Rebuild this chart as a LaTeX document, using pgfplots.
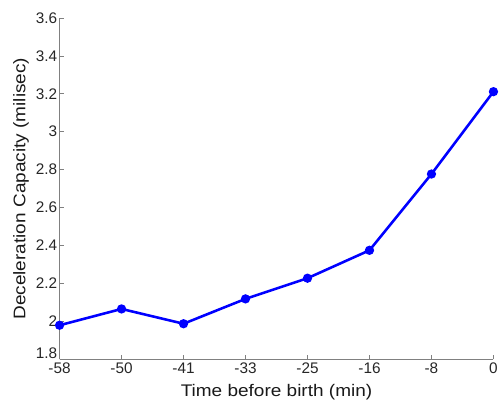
\documentclass[border=0pt]{standalone}
\usepackage{pgfplots}
\pgfplotsset{compat=1.18}
\usepackage{fontspec}
\setmainfont{Liberation Sans}
\begin{document}
\begin{tikzpicture}[x=1bp,y=1bp]
\begin{axis}[
  name=ax,
  scale only axis,
  width=437bp, height=344bp,
  xmin=0, xmax=7,
  ymin=1.8, ymax=3.6,
  xtick={0,1,2,3,4,5,6,7},
  xticklabels={-58,-50,-41,-33,-25,-16,-8,0},
  ytick={1.8,2,2.2,2.4,2.6,2.8,3,3.2,3.4,3.6},
  yticklabels={1.8,2,2.2,2.4,2.6,2.8,3,3.2,3.4,3.6},
  axis x line=bottom, axis y line=left,
  axis line style={-, draw=black!50, line width=0.6pt},
  tick style={draw=black!50, line width=0.6pt},
  tick align=inside,
  major tick length=4bp,
  tick label style={font=\fontsize{15.5}{15.5}\selectfont, text=black!85},
  xticklabel style={yshift=0bp},
  yticklabel style={xshift=1bp, yshift={ifthenelse(\ticknum==0,6,0)}},
  xlabel style={font=\fontsize{17}{17}\selectfont, text=black!90, xscale=1.13, yshift=-4bp},
  ylabel style={font=\fontsize{17}{17}\selectfont, text=black!90, xscale=1.13, yshift=0bp},
  xlabel={Time before birth (min)},
  ylabel={Deceleration Capacity (milisec)},
  clip=false,
]
\addplot[color=blue, line width=2.6pt, mark=*, mark size=3.3bp, mark options={fill=blue}]
coordinates {
(0,1.980) (1,2.066) (2,1.988) (3,2.119) (4,2.228) (5,2.375) (6,2.777) (7,3.211)
};
\end{axis}
\path ([xshift=-60bp,yshift=-43bp]ax.south west) rectangle ([xshift=4bp,yshift=18bp]ax.north east);
\end{tikzpicture}
\end{document}
